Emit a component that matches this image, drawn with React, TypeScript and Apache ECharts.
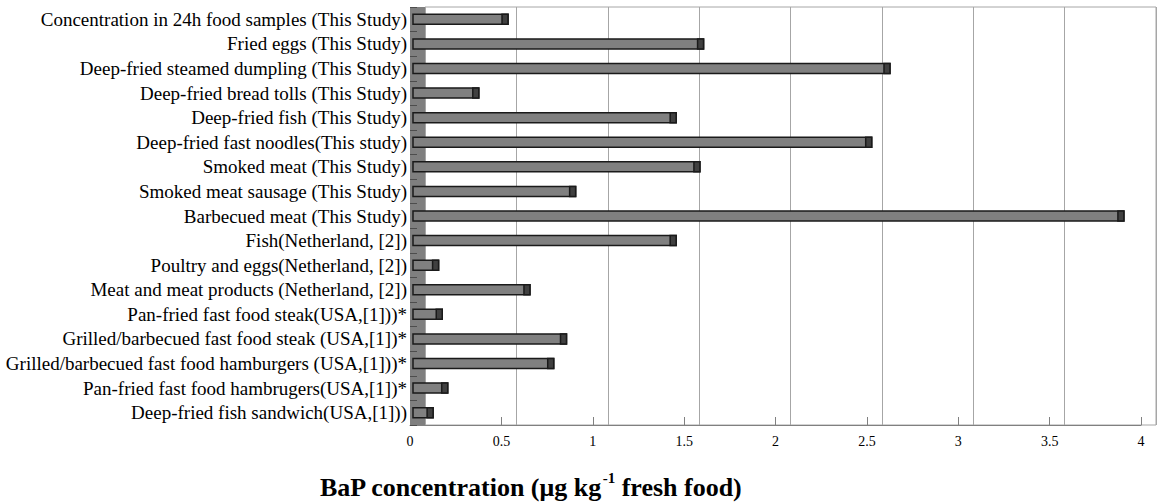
import React, { useEffect, useRef } from "react";
import * as echarts from "echarts";

const categories: string[] = [
  "Concentration in 24h food samples (This Study)",
  "Fried eggs (This Study)",
  "Deep-fried steamed dumpling (This Study)",
  "Deep-fried bread tolls (This Study)",
  "Deep-fried fish (This Study)",
  "Deep-fried fast noodles(This study)",
  "Smoked meat (This Study)",
  "Smoked meat sausage (This Study)",
  "Barbecued meat (This Study)",
  "Fish(Netherland, [2])",
  "Poultry and eggs(Netherland, [2])",
  "Meat and meat products (Netherland, [2])",
  "Pan-fried fast food steak(USA,[1]))*",
  "Grilled/barbecued fast food steak (USA,[1])*",
  "Grilled/barbecued fast food hamburgers (USA,[1]))*",
  "Pan-fried fast food hambrugers(USA,[1])*",
  "Deep-fried fish sandwich(USA,[1]))",
];

const values: number[] = [
  0.52, 1.59, 2.61, 0.36, 1.44, 2.51, 1.57, 0.89, 3.89, 1.44, 0.14, 0.64, 0.16,
  0.84, 0.77, 0.19, 0.11,
];

const xTicks: number[] = [0, 0.5, 1, 1.5, 2, 2.5, 3, 3.5, 4];

export default function App() {
  const ref = useRef<HTMLDivElement>(null);
  useEffect(() => {
    if (!ref.current) return;
    const chart = echarts.init(ref.current, undefined, { renderer: "svg" });
    const serif = "Liberation Serif";
    chart.setOption({
      animation: false,
      backgroundColor: "#ffffff",
      title: {
        left: 320,
        top: 470,
        padding: 0,
        text: "{a|BaP concentration (μg kg}{s|-1}{a| fresh food)}",
        textStyle: {
          rich: {
            a: { fontFamily: serif, fontWeight: "bold", fontSize: 26, color: "#000", verticalAlign: "bottom", lineHeight: 30 },
            s: { fontFamily: serif, fontWeight: "bold", fontSize: 15, color: "#000", verticalAlign: "top", lineHeight: 30, padding: [0, 0, 14, 0] },
          },
        },
      },
      graphic: [
        {
          type: "rect",
          z: 1,
          shape: { x: 410, y: 7, width: 15, height: 418 },
          style: { fill: "#7f7f7f" },
        },
      ],
      grid: [
        { left: 410, right: 16, top: 7, bottom: 79, show: false },
        { left: 425, right: 1, top: 7, bottom: 79, show: true, borderColor: "#a6a6a6", borderWidth: 1, backgroundColor: "transparent", z: 0 },
      ],
      xAxis: [
        {
          gridIndex: 0,
          type: "value",
          min: 0,
          max: 4,
          interval: 0.5,
          z: 3,
          axisLine: { show: true, lineStyle: { color: "#808080", width: 1 } },
          axisTick: { show: true, inside: true, length: 8, lineStyle: { color: "#808080" } },
          splitLine: { show: false },
          axisLabel: {
            margin: 9,
            fontFamily: serif,
            fontSize: 14,
            color: "#000",
            customValues: xTicks,
            formatter: (v: number) => String(v),
          },
        },
        {
          gridIndex: 1,
          type: "value",
          min: 0,
          max: 4,
          interval: 0.5,
          axisLine: { show: false },
          axisTick: { show: false },
          axisLabel: { show: false },
          splitLine: { show: true, lineStyle: { color: "#a6a6a6", width: 1 } },
        },
      ],
      yAxis: [
        {
          gridIndex: 0,
          type: "category",
          inverse: true,
          data: categories,
          z: 3,
          axisLine: { show: false },
          axisTick: { show: true, inside: true, interval: 0, length: 7, lineStyle: { color: "#4d4d4d", width: 1 } },
          axisLabel: { interval: 0, hideOverlap: false, margin: 3, fontFamily: serif, fontSize: 19, color: "#000" },
        },
        {
          gridIndex: 1,
          type: "category",
          inverse: true,
          data: categories,
          show: false,
        },
      ],
      series: [
        {
          type: "custom",
          xAxisIndex: 0,
          yAxisIndex: 0,
          z: 5,
          data: values.map((v, i) => [v, i]),
          renderItem: (params: any, api: any) => {
            const v = api.value(0);
            const idx = api.value(1);
            const p0 = api.coord([0, idx]);
            const p1 = api.coord([v, idx]);
            const h = 10;
            const off = 3;
            const cap = 6;
            const y = p0[1] - h / 2;
            return {
              type: "group",
              children: [
                {
                  type: "rect",
                  shape: { x: p0[0] + off, y, width: p1[0] - p0[0], height: h },
                  style: { fill: "#808080", stroke: "#1a1a1a", lineWidth: 1.5 },
                },
                {
                  type: "rect",
                  shape: { x: p1[0] + off - cap, y, width: cap, height: h },
                  style: { fill: "#404040", stroke: "#1a1a1a", lineWidth: 1.5 },
                },
              ],
            };
          },
        },
      ],
    });
    return () => chart.dispose();
  }, []);
  return <div ref={ref} style={{ width: 1157, height: 504, position: "absolute", left: 0, top: 0 }} />;
}
